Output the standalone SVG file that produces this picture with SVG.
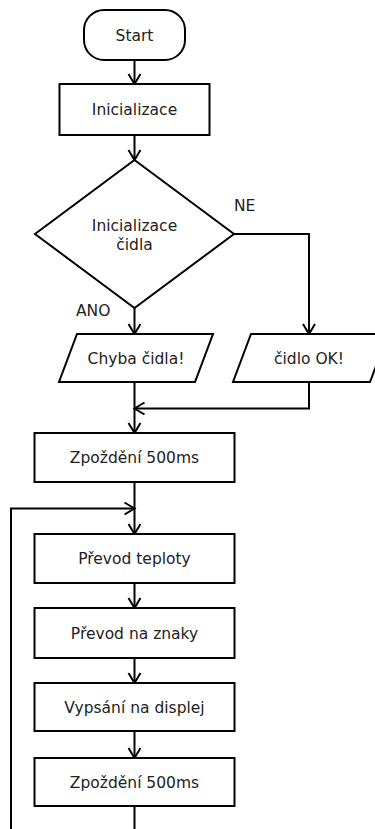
<svg xmlns="http://www.w3.org/2000/svg" width="375" height="829" viewBox="0 0 375 829">
  <defs>
    <marker id="arrow" markerUnits="userSpaceOnUse" markerWidth="16" markerHeight="16" viewBox="-12 -8 14 16" refX="0" refY="0" orient="auto">
      <path d="M-10,-6 L0,0 L-10,6" fill="none" stroke="#000" stroke-width="2"/>
    </marker>
    <style>
      .shape { fill: #fff; stroke: #000; stroke-width: 2; }
      .label { font-family: "DejaVu Sans", "Liberation Sans", sans-serif; font-size: 15.5px; fill: #222; text-anchor: middle; }
      .edge { fill: none; stroke: #000; stroke-width: 2; }
      .arrow { marker-end: url(#arrow); }
      .tag { font-family: "DejaVu Sans", "Liberation Sans", sans-serif; font-size: 15.5px; fill: #222; }
    </style>
  </defs>
  <rect width="375" height="829" fill="#fff"/>

  <!-- connectors -->
  <g id="connectors">
    <path class="edge arrow" d="M134.5,60 V84"/>
    <path class="edge arrow" d="M134.5,135 V160"/>
    <path class="edge arrow" d="M234,234 H309 V334"/>
    <path class="edge arrow" d="M134.5,308 V334"/>
    <path class="edge arrow" d="M134.5,382 V433"/>
    <path class="edge arrow" d="M309,382 V408.5 H134.5"/>
    <path class="edge arrow" d="M134.5,482 V534"/>
    <path class="edge arrow" d="M11,829 V508.5 H134.5"/>
    <path class="edge arrow" d="M134.5,583 V608"/>
    <path class="edge arrow" d="M134.5,658 V683"/>
    <path class="edge arrow" d="M134.5,731 V758"/>
    <path class="edge" d="M134.5,806 V829"/>
    <text class="tag" x="234" y="210.5">NE</text>
    <text class="tag" x="76" y="315.5">ANO</text>
  </g>

  <g id="start">
    <rect class="shape" x="84" y="10" width="101" height="50" rx="20" ry="20"/>
    <text class="label" x="134.5" y="40.5">Start</text>
  </g>

  <g id="init">
    <rect class="shape" x="59.5" y="84" width="150" height="51"/>
    <text class="label" x="134.5" y="115">Inicializace</text>
  </g>

  <g id="sensor-check">
    <polygon class="shape" points="134.5,160 234,234 134.5,308 35,234"/>
    <text class="label" x="134.5" y="230.5">Inicializace</text>
    <text class="label" x="134.5" y="249.5">čidla</text>
  </g>

  <g id="sensor-error">
    <polygon class="shape" points="77,334 213,334 195,382 59,382"/>
    <text class="label" x="136" y="363.5">Chyba čidla!</text>
  </g>

  <g id="sensor-ok">
    <polygon class="shape" points="251,334 388,334 370,382 233,382"/>
    <text class="label" x="309" y="363.5">čidlo OK!</text>
  </g>

  <g id="delay-1">
    <rect class="shape" x="34.5" y="433" width="200" height="49"/>
    <text class="label" x="134.5" y="463">Zpoždění 500ms</text>
  </g>

  <g id="convert-temp">
    <rect class="shape" x="34.5" y="534" width="200" height="49"/>
    <text class="label" x="134.5" y="564">Převod teploty</text>
  </g>

  <g id="convert-chars">
    <rect class="shape" x="34.5" y="608" width="200" height="50"/>
    <text class="label" x="134.5" y="638.5">Převod na znaky</text>
  </g>

  <g id="display">
    <rect class="shape" x="34.5" y="683" width="200" height="48"/>
    <text class="label" x="134.5" y="712.5">Vypsání na displej</text>
  </g>

  <g id="delay-2">
    <rect class="shape" x="34.5" y="758" width="200" height="48"/>
    <text class="label" x="134.5" y="787.5">Zpoždění 500ms</text>
  </g>
</svg>
